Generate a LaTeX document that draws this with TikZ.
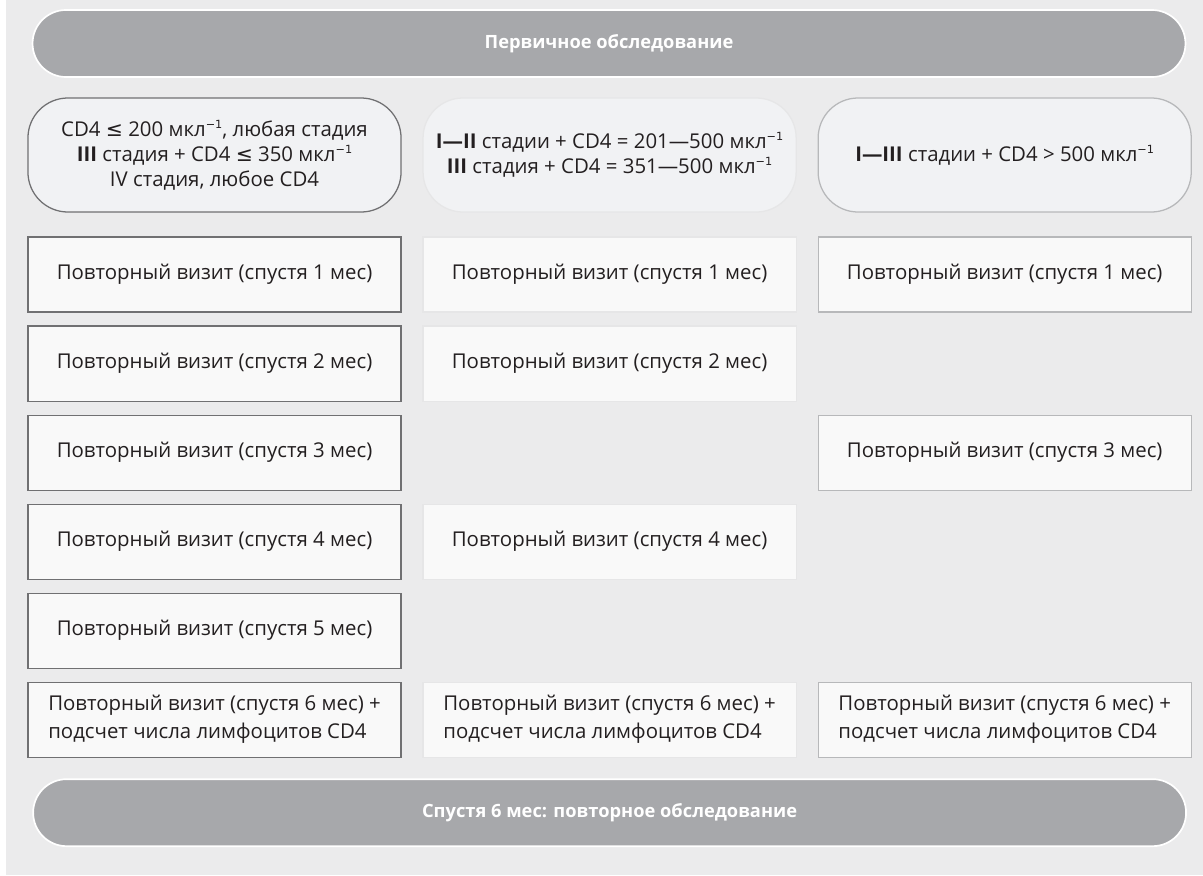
\documentclass[tikz,border=0pt]{standalone}
\usepackage{fontspec}
\setmainfont{Open Sans}
\newfontfamily\symfont{DejaVu Sans}
\usepackage{xcolor}
\usepackage{tikz}
\usetikzlibrary{positioning,shapes.misc}
\definecolor{panel}{HTML}{EBEBEC}
\definecolor{barfill}{HTML}{A7A8AB}
\definecolor{boxfill}{HTML}{F9F9F9}
\definecolor{critfill}{HTML}{F1F2F4}
\definecolor{inktext}{HTML}{231F20}
\definecolor{edgeA}{HTML}{707072}
\definecolor{edgeB}{HTML}{E6E6E7}
\definecolor{edgeC}{HTML}{B7B8BA}
\newcommand{\lesym}{{\symfont ≤}}
\newcommand{\permkl}{мкл\raisebox{0.75ex}{\fontsize{8}{8}\selectfont\symfont −1}}

\begin{document}
\begin{tikzpicture}[x=0.025cm,y=-0.025cm,node distance=0.35cm and 0.55cm,
  font=\fontsize{14.5}{17.8}\selectfont,text=inktext]
  \tikzstyle{stagebar}=[rounded rectangle,fill=barfill,draw=white,line width=1.2pt,outer sep=0pt,minimum width=29.05cm,minimum height=1.675cm,text=white,font=\bfseries\fontsize{13}{15}\selectfont]
  \tikzstyle{crit}=[draw,rounded corners=1cm,fill=critfill,align=center,outer sep=0pt,minimum width=9.325cm,minimum height=2.85cm,line width=0.9pt]
  \tikzstyle{visit}=[draw,fill=boxfill,align=center,outer sep=0pt,minimum width=9.325cm,minimum height=1.875cm,line width=0.8pt]
  \tikzstyle{visitsix}=[visit,align=left,font=\fontsize{14.5}{20}\selectfont]
  % background panel
  \fill[white] (0,0) rectangle (1203,875);
  \fill[panel] (6,0) rectangle (1203,875);
  \node[stagebar] (initial) at (609,43.5) {Первичное обследование};
  % criteria row
  \node[crit,draw=edgeA] (crit1) at (214.5,155) {CD4 \lesym\ 200 \permkl, любая стадия\\\textbf{III} стадия + CD4 \lesym\ 350 \permkl\\IV стадия, любое CD4};
  \node[crit,draw=edgeB,right=of crit1] (crit2) {\textbf{I—II} стадии + CD4 = 201—500 \permkl\\\textbf{III} стадия + CD4 = 351—500 \permkl};
  \node[crit,draw=edgeC,right=of crit2] (crit3) {\textbf{I—III} стадии + CD4 > 500 \permkl};
  % column 1
  \node[visit,draw=edgeA,below=0.625cm of crit1] (v1a) {Повторный визит (спустя 1 мес)};
  \node[visit,draw=edgeA,below=of v1a] (v2a) {Повторный визит (спустя 2 мес)};
  \node[visit,draw=edgeA,below=of v2a] (v3a) {Повторный визит (спустя 3 мес)};
  \node[visit,draw=edgeA,below=of v3a] (v4a) {Повторный визит (спустя 4 мес)};
  \node[visit,draw=edgeA,below=of v4a] (v5a) {Повторный визит (спустя 5 мес)};
  \node[visitsix,draw=edgeA,below=of v5a] (v6a) {Повторный визит (спустя 6 мес) +\\подсчет числа лимфоцитов CD4};
  % column 2
  \node[visit,draw=edgeB] (v1b) at (crit2 |- v1a) {Повторный визит (спустя 1 мес)};
  \node[visit,draw=edgeB] (v2b) at (crit2 |- v2a) {Повторный визит (спустя 2 мес)};
  \node[visit,draw=edgeB] (v4b) at (crit2 |- v4a) {Повторный визит (спустя 4 мес)};
  \node[visitsix,draw=edgeB] (v6b) at (crit2 |- v6a) {Повторный визит (спустя 6 мес) +\\подсчет числа лимфоцитов CD4};
  % column 3
  \node[visit,draw=edgeC] (v1c) at (crit3 |- v1a) {Повторный визит (спустя 1 мес)};
  \node[visit,draw=edgeC] (v3c) at (crit3 |- v3a) {Повторный визит (спустя 3 мес)};
  \node[visitsix,draw=edgeC] (v6c) at (crit3 |- v6a) {Повторный визит (спустя 6 мес) +\\подсчет числа лимфоцитов CD4};
  \node[stagebar,below=0.55cm of v6b] (repeat) {Спустя 6 мес: повторное обследование};
\end{tikzpicture}
\end{document}
